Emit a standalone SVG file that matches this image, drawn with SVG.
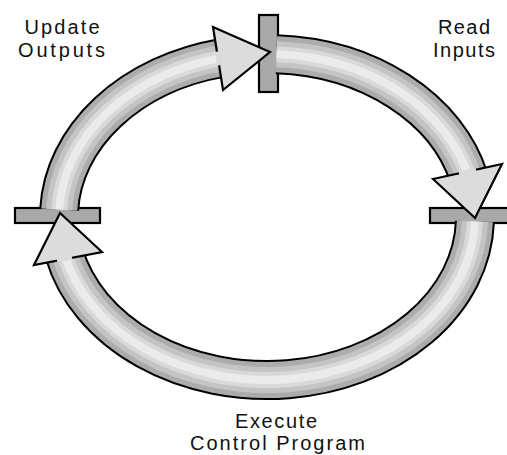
<svg xmlns="http://www.w3.org/2000/svg" width="507" height="455" viewBox="0 0 507 455">
<style>
.bar{fill:#a9a9a9;stroke:#000;stroke-width:2.2}
.b0{fill:none;stroke:#000;stroke-width:40}
.b1{fill:none;stroke:#acacac;stroke-width:36}
.b2{fill:none;stroke:#c4c4c4;stroke-width:26}
.b3{fill:none;stroke:#d9d9d9;stroke-width:16}
.b4{fill:none;stroke:#ebebeb;stroke-width:8}
.head{fill:#dcdcdc;stroke:#000;stroke-width:2.2;stroke-linejoin:miter}
.gap{stroke:#dcdcdc;stroke-width:3.5;stroke-linecap:butt}
.lbl{font-family:"Liberation Sans",Arial,sans-serif;font-size:20px;fill:#111;text-anchor:middle}
</style>
<defs>
<path id="arcA" d="M 59.2 209.5 A 208 163 0 0 1 222 57.9"/>
<path id="arcB" d="M 276.5 54.2 A 208 163 0 0 1 469 178.1"/>
<path id="arcC" d="M 474.9 221.5 A 208 163 0 0 1 64.4 254"/>
</defs>
<rect width="507" height="455" fill="#fff"/>
<g id="ticks">
<g id="tick-top"><rect class="bar" x="259" y="15" width="19" height="77"/></g>
<g id="tick-right"><rect class="bar" x="430" y="208" width="85" height="15"/></g>
<g id="tick-left"><rect class="bar" x="15" y="208" width="85" height="15"/></g>
</g>
<g id="connectors">
<g id="arrow-update">
<use href="#arcA" class="b0"/><use href="#arcA" class="b1"/><use href="#arcA" class="b2"/><use href="#arcA" class="b3"/><use href="#arcA" class="b4"/>
<polygon class="head" points="213,27 270,52 223,90"/>
<line class="gap" x1="216.9" y1="51.6" x2="219.1" y2="65.4"/>
</g>
<g id="arrow-read">
<use href="#arcB" class="b0"/><use href="#arcB" class="b1"/><use href="#arcB" class="b2"/><use href="#arcB" class="b3"/><use href="#arcB" class="b4"/>
<polygon class="head" points="433,179 502,164 475,218"/>
<line class="gap" x1="459" y1="173.3" x2="476" y2="169.7"/>
</g>
<g id="arrow-execute">
<use href="#arcC" class="b0"/><use href="#arcC" class="b1"/><use href="#arcC" class="b2"/><use href="#arcC" class="b3"/><use href="#arcC" class="b4"/>
<polygon class="head" points="34,265 60,213 102,252"/>
<line class="gap" x1="57" y1="260.6" x2="72" y2="257.7"/>
</g>
</g>
<g id="label-update">
<text class="lbl" x="62" y="34" textLength="75" lengthAdjust="spacing">Update</text>
<text class="lbl" x="61.5" y="57" textLength="87" lengthAdjust="spacing">Outputs</text>
</g>
<g id="label-read">
<text class="lbl" x="464" y="34" textLength="52" lengthAdjust="spacing">Read</text>
<text class="lbl" x="464" y="57" textLength="62" lengthAdjust="spacing">Inputs</text>
</g>
<g id="label-execute">
<text class="lbl" x="276" y="428" textLength="82" lengthAdjust="spacing">Execute</text>
<text class="lbl" x="277.5" y="450" textLength="175" lengthAdjust="spacing">Control Program</text>
</g>
</svg>
